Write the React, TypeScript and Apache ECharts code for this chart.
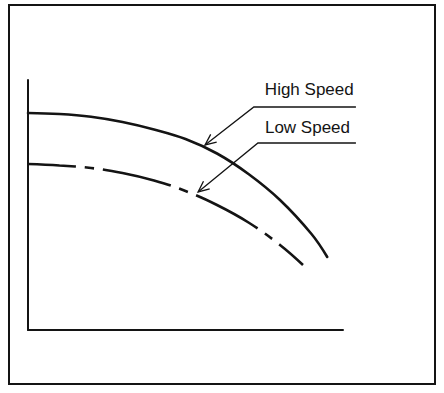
import React, { useEffect, useRef } from "react";
import * as echarts from "echarts";

// Pump curves (relative flow vs relative head)
const highFlow = [0, 10, 20, 30, 40, 50, 60, 70, 80, 90, 95];
const highHead = [86.8, 86.4, 85.3, 83.2, 80.2, 76.4, 70.6, 62.4, 52, 38.4, 29.2];
const lowFlow = [0, 10, 20, 30, 40, 50, 60, 70, 80, 87.3];
const lowHead = [66.4, 65.8, 64.8, 62.8, 59.8, 55.6, 50, 43, 34, 26];

const labels = ["High Speed", "Low Speed"];
// annotation anchors in data space: [tip, elbow, end of underline]
const highNote = [[56.2, 74], [71.7, 89.2], [104.1, 89.2]];
const lowNote = [[54, 55.2], [73, 74.8], [104.1, 74.8]];

const INK = "#141414";

function toPairs(xs: number[], ys: number[]) {
  return xs.map((x, i) => [x, ys[i]]);
}

export default function App() {
  const ref = useRef<HTMLDivElement>(null);
  useEffect(() => {
    if (!ref.current) return;
    const chart = echarts.init(ref.current, undefined, { renderer: "svg" });
    chart.setOption({
      animation: false,
      backgroundColor: "#ffffff",
      grid: { left: 28, right: 101, top: 80, bottom: 63, containLabel: false },
      xAxis: {
        type: "value",
        min: 0,
        max: 100,
        axisLine: { show: true, lineStyle: { color: INK, width: 2 } },
        axisTick: { show: false },
        axisLabel: { show: false },
        splitLine: { show: false },
      },
      yAxis: {
        type: "value",
        min: 0,
        max: 100,
        axisLine: { show: true, lineStyle: { color: INK, width: 2 } },
        axisTick: { show: false },
        axisLabel: { show: false },
        splitLine: { show: false },
      },
      series: [
        {
          name: labels[0],
          type: "line",
          data: toPairs(highFlow, highHead),
          smooth: 0.4,
          showSymbol: false,
          lineStyle: { color: INK, width: 2.6, cap: "round" },
        },
        {
          name: labels[1],
          type: "line",
          data: toPairs(lowFlow, lowHead),
          smooth: 0.4,
          showSymbol: false,
          lineStyle: { color: INK, width: 2.6, type: [70, 9, 9, 9], dashOffset: 22, cap: "butt" },
        },
      ],
    });

    const px = (p: number[]) => chart.convertToPixel({ gridIndex: 0 }, p) as number[];
    const arrowHead = (tip: number[], from: number[]) => {
      const dx = tip[0] - from[0];
      const dy = tip[1] - from[1];
      const len = Math.hypot(dx, dy);
      const ux = dx / len, uy = dy / len;
      const L = 12, a = (24 * Math.PI) / 180;
      const arm = (s: number) => {
        const c = Math.cos(s * a), si = Math.sin(s * a);
        const rx = ux * c - uy * si, ry = ux * si + uy * c;
        return [tip[0] - L * rx, tip[1] - L * ry];
      };
      return [arm(1), tip, arm(-1)];
    };
    const note = (pts: number[][], text: string, dx: number, dy: number) => {
      const [tip, elbow, end] = pts.map(px);
      return [
        { type: "polyline", shape: { points: [end, elbow, tip] }, style: { stroke: INK, lineWidth: 1.3, fill: null } },
        { type: "polyline", shape: { points: arrowHead(tip, elbow) }, style: { stroke: INK, lineWidth: 1.3, fill: null } },
        {
          type: "text",
          x: elbow[0] + dx,
          y: elbow[1] + dy,
          style: { text, font: "17px 'Liberation Sans', Arial, sans-serif", fill: INK, textVerticalAlign: "middle" },
        },
      ];
    };
    chart.setOption({
      graphic: [
        { type: "rect", shape: { x: 9, y: 5, width: 426, height: 379 }, style: { stroke: INK, lineWidth: 2, fill: null } },
        ...note(highNote, labels[0], 11, -18),
        ...note(lowNote, labels[1], 7, -16),
      ],
    });
    return () => chart.dispose();
  }, []);
  return <div ref={ref} style={{ position: "absolute", left: 0, top: 0, width: 444, height: 393 }} />;
}
